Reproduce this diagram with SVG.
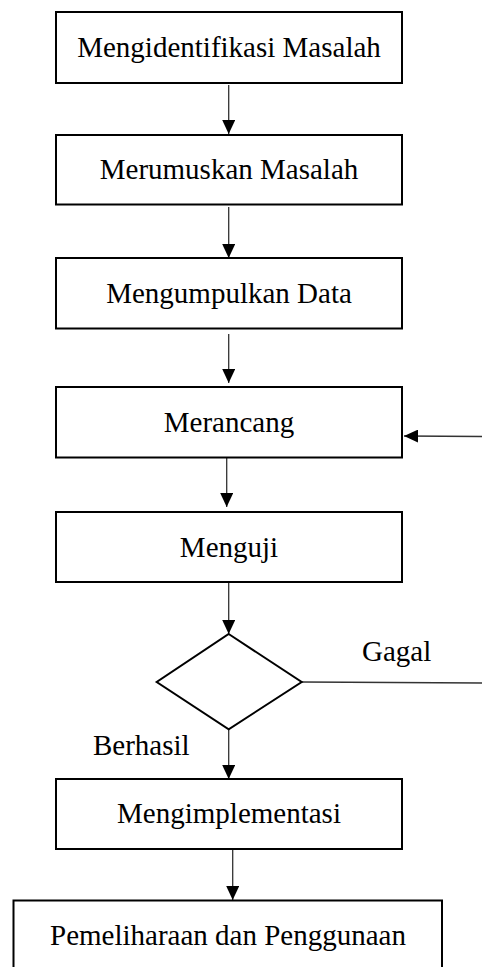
<svg xmlns="http://www.w3.org/2000/svg" width="482" height="967" viewBox="0 0 482 967">
<style>
.box{fill:#fff;stroke:#000;stroke-width:2}
.t{font-family:"Liberation Serif","Times New Roman",serif;font-size:29px;fill:#000}
.c{text-anchor:middle}
.ln{stroke:#333;stroke-width:1.3;fill:none}
</style>
<defs>
<marker id="ah" markerUnits="userSpaceOnUse" markerWidth="14" markerHeight="13" refX="14" refY="6.5" orient="auto">
<path d="M0,0 L14,6.5 L0,13 Z" fill="#000"/>
</marker>
</defs>
<rect width="482" height="967" fill="#fff"/>
<g id="connectors">
<line class="ln" x1="228.7" y1="85" x2="228.7" y2="134" marker-end="url(#ah)"/>
<line class="ln" x1="228.7" y1="207" x2="228.7" y2="258" marker-end="url(#ah)"/>
<line class="ln" x1="228.7" y1="334" x2="228.7" y2="383" marker-end="url(#ah)"/>
<line class="ln" x1="226.7" y1="458" x2="226.7" y2="507" marker-end="url(#ah)"/>
<line class="ln" x1="228.7" y1="583" x2="228.7" y2="634" marker-end="url(#ah)"/>
<line class="ln" x1="228.7" y1="729" x2="228.7" y2="779" marker-end="url(#ah)"/>
<line class="ln" x1="232.7" y1="850" x2="232.7" y2="900" marker-end="url(#ah)"/>
<line class="ln" x1="302" y1="682" x2="482" y2="683"/>
<line class="ln" x1="482" y1="436.5" x2="404" y2="436" marker-end="url(#ah)"/>
</g>
<g id="n1"><rect class="box" x="56" y="12" width="346" height="71"/><text class="t c" x="229" y="57">Mengidentifikasi Masalah</text></g>
<g id="n2"><rect class="box" x="56" y="135" width="346" height="69.5"/><text class="t c" x="229" y="179">Merumuskan Masalah</text></g>
<g id="n3"><rect class="box" x="56" y="258" width="346" height="70.5"/><text class="t c" x="229" y="303">Mengumpulkan Data</text></g>
<g id="n4"><rect class="box" x="56" y="387" width="346" height="70.5"/><text class="t c" x="229" y="431.5">Merancang</text></g>
<g id="n5"><rect class="box" x="56" y="512" width="346" height="70"/><text class="t c" x="229" y="557">Menguji</text></g>
<g id="n6"><polygon class="box" points="228.7,634 301.7,682 228.7,729.3 156.7,682"/></g>
<g id="lbl"><text class="t" x="362" y="661">Gagal</text><text class="t" x="93" y="755">Berhasil</text></g>
<g id="n7"><rect class="box" x="56" y="779" width="346" height="70"/><text class="t c" x="229" y="823">Mengimplementasi</text></g>
<g id="n8"><rect class="box" x="13.5" y="900.5" width="428.5" height="80"/><text class="t c" x="228" y="945">Pemeliharaan dan Penggunaan</text></g>
</svg>
